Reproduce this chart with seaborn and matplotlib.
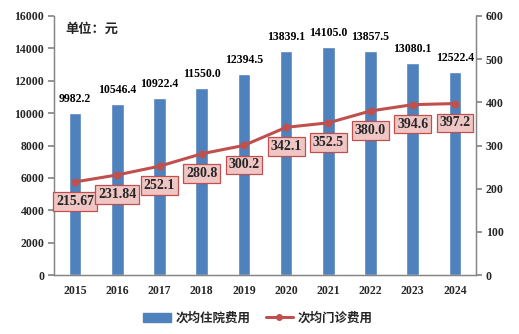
import matplotlib
matplotlib.use("Agg")
import matplotlib.pyplot as plt
import seaborn as sns
import pandas as pd
import numpy as np
from matplotlib.lines import Line2D
from matplotlib.patches import Patch

years = ["2015", "2016", "2017", "2018", "2019", "2020", "2021", "2022", "2023", "2024"]
inpatient = [9982.2, 10546.4, 10922.4, 11550.0, 12394.5, 13839.1, 14105.0, 13857.5, 13080.1, 12522.4]
outpatient = [215.67, 231.84, 252.1, 280.8, 300.2, 342.1, 352.5, 380.0, 394.6, 397.2]
outpatient_labels = ["215.67", "231.84", "252.1", "280.8", "300.2", "342.1", "352.5", "380.0", "394.6", "397.2"]
left_ticks = [0, 2000, 4000, 6000, 8000, 10000, 12000, 14000, 16000]
right_ticks = [0, 100, 200, 300, 400, 500, 600]

sns.set_theme(style="white")
plt.rcParams['font.family'] = ['Liberation Serif', 'Noto Sans CJK SC', 'DejaVu Sans']

bar_color = "#4F81BD"
line_color = "#C0504D"
spine_color = "#868686"

df = pd.DataFrame({"year": years, "inpatient": inpatient, "outpatient": outpatient})

fig = plt.figure(figsize=(5.19, 3.34), dpi=100)
ax = fig.add_axes([54/519, 1 - 275/334, (476 - 54)/519, (275 - 16)/334])

sns.barplot(data=df, x="year", y="inpatient", color=bar_color, width=0.3,
            saturation=1, ax=ax, order=years)
ax.set_ylim(0, 16000)
ax.set_xlim(-0.5, len(years) - 0.5)
ax.set_yticks(left_ticks)
ax.set_yticklabels([str(t) for t in left_ticks], fontweight="bold", fontsize=8.5)
ax.set_xlabel("")
ax.set_ylabel("")
ax.set_xticks(range(len(years)))
ax.set_xticklabels(years, fontweight="bold", fontsize=8.5)
ax.set_xticks(np.arange(-0.5, len(years), 1.0), minor=True)
ax.tick_params(axis="x", which="major", length=0, pad=7)
ax.tick_params(axis="x", which="minor", length=4, color=spine_color, direction="out")
ax.tick_params(axis="y", length=4, color=spine_color, direction="out", left=True, pad=3)
for s in ["left", "bottom", "right"]:
    ax.spines[s].set_color(spine_color)
    ax.spines[s].set_linewidth(0.9)
ax.spines["top"].set_visible(False)

for i, v in enumerate(inpatient):
    ax.text(i, v + 500, f"{v:.1f}", ha="center", va="bottom", fontsize=8.5,
            fontweight="bold", color="black")

ax2 = ax.twinx()
sns.pointplot(data=df, x="year", y="outpatient", order=years, color=line_color,
              markers="o", markersize=4, linewidth=2.2, ax=ax2)
ax2.set_ylim(0, 600)
ax2.set_xlim(-0.5, len(years) - 0.5)
ax2.set_yticks(right_ticks)
ax2.set_yticklabels([str(t) for t in right_ticks], fontweight="bold", fontsize=8.5)
ax2.set_ylabel("")
ax2.set_xlabel("")
ax2.tick_params(axis="y", length=4, color=spine_color, direction="out", right=True, pad=3)
for s in ["left", "bottom", "right"]:
    ax2.spines[s].set_color(spine_color)
    ax2.spines[s].set_linewidth(0.9)
ax2.spines["top"].set_visible(False)

for i, (v, lab) in enumerate(zip(outpatient, outpatient_labels)):
    ax2.annotate(lab, (i, v), xytext=(0, -14), textcoords="offset points",
                 ha="center", va="center", fontsize=10, fontweight="bold",
                 bbox=dict(boxstyle="square,pad=0.2", fc="#F0C6C5", ec=line_color, lw=0.9))

fig.text(65/519, 1 - 29/334, "单位：元", fontsize=9.5, fontweight="bold",
         family=['Noto Sans CJK SC', 'DejaVu Sans'], va="center", ha="left")

handles = [Patch(facecolor=bar_color, edgecolor=bar_color),
           Line2D([0], [0], color=line_color, lw=2.2, marker="o", markersize=4)]
fig.legend(handles, ["次均住院费用", "次均门诊费用"], loc="center",
           bbox_to_anchor=(258/519, 1 - 318/334), ncol=2, frameon=False,
           prop=dict(family=['Noto Sans CJK SC', 'DejaVu Sans'], weight='bold', size=9),
           handlelength=2.2, handletextpad=0.4, columnspacing=1.2)

fig.savefig("out.png", dpi=100)
